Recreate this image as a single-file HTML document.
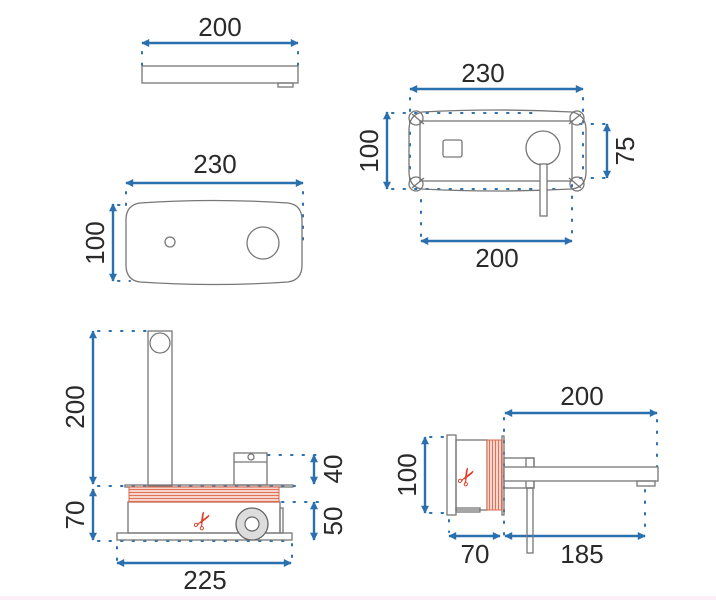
<!DOCTYPE html>
<html><head><style>
html,body{margin:0;padding:0;background:#fff;}
svg{display:block;}
text{font-family:"Liberation Sans",sans-serif;font-size:26px;fill:#2a2a2a;}
</style></head><body>
<svg width="716" height="600" viewBox="0 0 716 600" xmlns="http://www.w3.org/2000/svg">
<defs>
<marker id="a" viewBox="0 0 10 10" refX="9" refY="5" markerWidth="10" markerHeight="8" orient="auto-start-reverse" markerUnits="userSpaceOnUse">
<path d="M0,0 L10,5 L0,10 z" fill="#2a6fae"/>
</marker>
<pattern id="st" width="4" height="3" patternUnits="userSpaceOnUse">
<rect width="4" height="3" fill="#f6d6cc"/><rect width="4" height="1" fill="#e0735a"/>
</pattern>
<pattern id="sv" width="3" height="4" patternUnits="userSpaceOnUse">
<rect width="3" height="4" fill="#f6d6cc"/><rect width="1" height="4" fill="#e0735a"/>
</pattern>
</defs>
<rect width="716" height="600" fill="#fff"/>
<rect y="596" width="716" height="4" fill="#fbeef4"/>
<g stroke="#2a6fae" stroke-width="2.4" fill="none" marker-start="url(#a)" marker-end="url(#a)">
<line x1="142" y1="43" x2="298" y2="43"/>
<line x1="126" y1="183" x2="303" y2="183"/>
<line x1="113" y1="204" x2="113" y2="281"/>
<line x1="410" y1="89" x2="583" y2="89"/>
<line x1="387" y1="112" x2="387" y2="189"/>
<line x1="607" y1="124" x2="607" y2="178"/>
<line x1="421" y1="241" x2="572" y2="241"/>
<line x1="93" y1="331" x2="93" y2="484"/>
<line x1="93" y1="489" x2="93" y2="540"/>
<line x1="314" y1="455" x2="314" y2="484"/>
<line x1="314" y1="502" x2="314" y2="540"/>
<line x1="117" y1="563" x2="291" y2="563"/>
<line x1="505" y1="413" x2="657" y2="413"/>
<line x1="425" y1="437" x2="425" y2="513"/>
<line x1="449" y1="536" x2="500" y2="536"/>
<line x1="505" y1="536" x2="645" y2="536"/>
</g>
<g stroke="#2a6fae" stroke-width="2" stroke-dasharray="1.5 10" stroke-linecap="round" fill="none">
<line x1="142" y1="52" x2="142" y2="66"/><line x1="298" y1="52" x2="298" y2="66"/>
<line x1="126" y1="192" x2="126" y2="205"/><line x1="303" y1="192" x2="303" y2="245"/>
<line x1="118" y1="205" x2="126" y2="205"/><line x1="118" y1="281" x2="130" y2="281"/>
<line x1="410" y1="98" x2="410" y2="190"/><line x1="583" y1="98" x2="583" y2="170"/>
<line x1="392" y1="113" x2="540" y2="113"/><line x1="392" y1="189" x2="560" y2="189"/>
<line x1="580" y1="124" x2="612" y2="124"/><line x1="580" y1="178" x2="612" y2="178"/>
<line x1="421" y1="200" x2="421" y2="241"/><line x1="572" y1="185" x2="572" y2="241"/>
<line x1="98" y1="331" x2="152" y2="331"/>
<line x1="98" y1="486" x2="300" y2="486"/>
<line x1="98" y1="541" x2="292" y2="541"/>
<line x1="268" y1="455" x2="320" y2="455"/>
<line x1="282" y1="502" x2="320" y2="502"/>
<line x1="117" y1="547" x2="117" y2="562"/><line x1="292" y1="544" x2="292" y2="562"/>
<line x1="504" y1="418" x2="504" y2="536"/><line x1="657" y1="420" x2="657" y2="470"/>
<line x1="645" y1="490" x2="645" y2="530"/>
<line x1="430" y1="437" x2="450" y2="437"/><line x1="430" y1="513" x2="450" y2="513"/>
<line x1="449" y1="520" x2="449" y2="532"/>
</g>
<g stroke="#777" stroke-width="1.3" fill="none">
<rect x="142" y="66" width="156" height="17"/>
<rect x="278" y="83" width="15" height="4"/>
<path d="M140,203 Q214,198 288,203 Q302,205 302,220 L302,265 Q302,280 288,282 Q214,287 140,282 Q126,280 126,265 L126,220 Q126,205 140,203 Z"/>
<circle cx="170" cy="242" r="5"/>
<circle cx="263" cy="243" r="16"/>
<path d="M422,112 Q496,108 572,112 Q586,115 586,130 L586,172 Q586,187 572,189 Q496,193 422,189 Q409,187 409,172 L409,130 Q409,115 422,112 Z"/>
<rect x="420" y="121" width="152" height="60"/>
<circle cx="416" cy="118" r="7"/><circle cx="577" cy="118" r="7"/>
<circle cx="416" cy="184" r="7"/><circle cx="577" cy="184" r="7"/>
<line x1="412" y1="114" x2="424" y2="124"/><line x1="581" y1="114" x2="569" y2="124"/>
<line x1="412" y1="188" x2="424" y2="178"/><line x1="581" y1="188" x2="569" y2="178"/>
<rect x="443" y="140" width="19" height="17" rx="2"/>
<circle cx="543" cy="148" r="17"/>
<rect x="540" y="164" width="7" height="52" fill="#fff"/>
<rect x="148" y="331" width="24" height="155"/>
<circle cx="160" cy="343" r="10"/>
<rect x="234" y="453" width="33" height="32"/>
<line x1="234" y1="462" x2="267" y2="462"/>
<circle cx="251" cy="457" r="3"/>
<rect x="125" y="485" width="168" height="2"/>
<rect x="128" y="502" width="152" height="31"/>
<rect x="280" y="508" width="3" height="25"/>
<rect x="117" y="533" width="175" height="7"/>
<rect x="447" y="435" width="9" height="80"/>
<rect x="456" y="440" width="31" height="70"/>
<rect x="456" y="508" width="24" height="4"/>
<rect x="502" y="436" width="2" height="79"/>
<rect x="504" y="458" width="30" height="30"/>
<rect x="526" y="458" width="8" height="30"/>
<rect x="504" y="467" width="154" height="14" fill="#fff"/>
<rect x="637" y="481" width="18" height="5"/>
<rect x="527" y="488" width="6" height="65"/>
</g>
<rect x="129" y="487" width="150" height="15" fill="url(#st)" stroke="#d9664c" stroke-width="1"/>
<rect x="487" y="440" width="15" height="70" fill="url(#sv)" stroke="#d9664c" stroke-width="1"/>
<circle cx="252" cy="524" r="16" fill="#ddd" stroke="#666" stroke-width="1.3"/>
<circle cx="252" cy="524" r="7" fill="#fff" stroke="#666" stroke-width="1.2"/>
<text transform="translate(203,521) rotate(-60)" text-anchor="middle" dominant-baseline="central" style="font-size:24px;fill:#e0402a;font-family:'DejaVu Sans',sans-serif">✂</text>
<text transform="translate(467,477) rotate(-60)" text-anchor="middle" dominant-baseline="central" style="font-size:24px;fill:#e0402a;font-family:'DejaVu Sans',sans-serif">✂</text>
<text x="220" y="36" text-anchor="middle">200</text>
<text x="215" y="173" text-anchor="middle">230</text>
<text x="483" y="82" text-anchor="middle">230</text>
<text x="497" y="267" text-anchor="middle">200</text>
<text x="205" y="589" text-anchor="middle">225</text>
<text x="582" y="405" text-anchor="middle">200</text>
<text x="475" y="563" text-anchor="middle">70</text>
<text x="582" y="563" text-anchor="middle">185</text>
<text transform="translate(104,243) rotate(-90)" text-anchor="middle">100</text>
<text transform="translate(378,151) rotate(-90)" text-anchor="middle">100</text>
<text transform="translate(634,151) rotate(-90)" text-anchor="middle">75</text>
<text transform="translate(84,407) rotate(-90)" text-anchor="middle">200</text>
<text transform="translate(84,515) rotate(-90)" text-anchor="middle">70</text>
<text transform="translate(342,469) rotate(-90)" text-anchor="middle">40</text>
<text transform="translate(342,521) rotate(-90)" text-anchor="middle">50</text>
<text transform="translate(416,475) rotate(-90)" text-anchor="middle">100</text>
</svg>
</body></html>
